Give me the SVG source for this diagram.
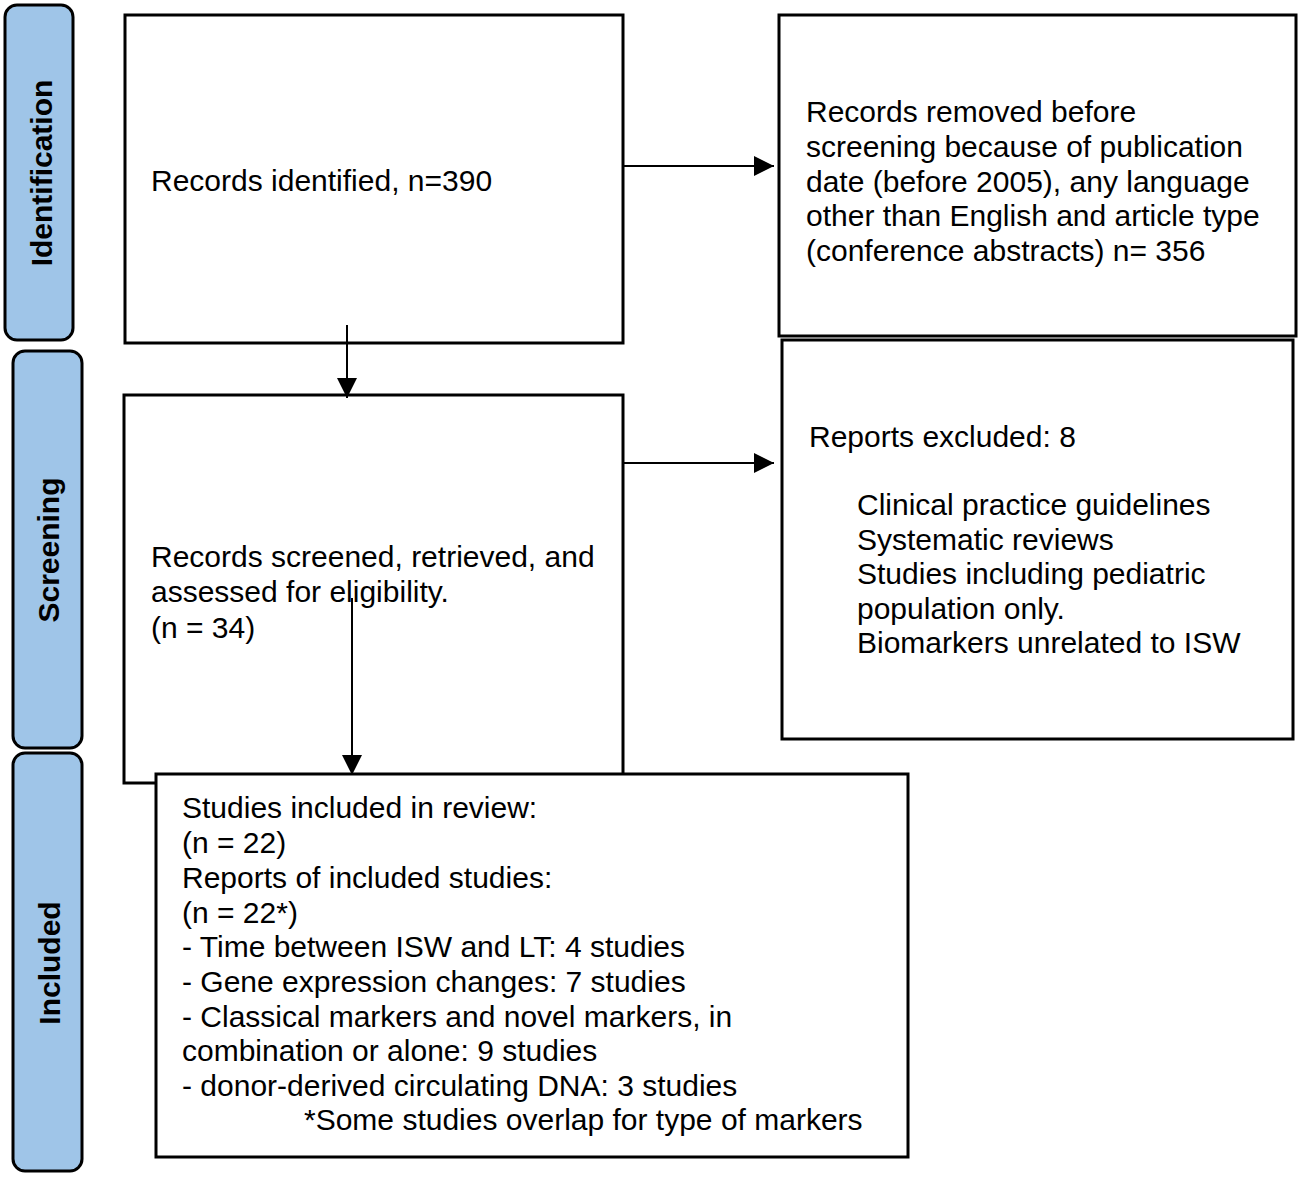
<svg xmlns="http://www.w3.org/2000/svg" width="1301" height="1177" viewBox="0 0 1301 1177">
<style>
.phase{fill:#9fc5e8;stroke:#000;stroke-width:3}
.box{fill:#fff;stroke:#000;stroke-width:3}
.pt{font-family:"Liberation Sans",Arial,sans-serif;font-weight:bold;font-size:30px;fill:#000}
.t{font-family:"Liberation Sans",Arial,sans-serif;font-size:30px;fill:#000}
.c{stroke:#000;stroke-width:2;fill:none}
</style>
<defs>
<marker id="ah" markerWidth="20" markerHeight="20" refX="20" refY="10" orient="auto" markerUnits="userSpaceOnUse" viewBox="0 0 20 20">
<path d="M0,0 L20,10 L0,20 Z" fill="#000"/>
</marker>
</defs>
<rect width="1301" height="1177" fill="#fff"/>
<g id="phase-identification">
<rect class="phase" x="5" y="5" width="68" height="335" rx="12"/>
<text class="pt" transform="translate(52,173) rotate(-90)" text-anchor="middle">Identification</text>
</g>
<g id="phase-screening">
<rect class="phase" x="13" y="351" width="69" height="397" rx="12"/>
<text class="pt" transform="translate(59,550) rotate(-90)" text-anchor="middle">Screening</text>
</g>
<g id="phase-included">
<rect class="phase" x="13" y="753" width="69" height="418" rx="12"/>
<text class="pt" transform="translate(60,963) rotate(-90)" text-anchor="middle">Included</text>
</g>
<g id="node-identified">
<rect class="box" x="125" y="15" width="498" height="328"/>
<text class="t" x="151" y="191">Records identified, n=390</text>
</g>
<g id="node-removed">
<rect class="box" x="779" y="15" width="517" height="321"/>
<text class="t" x="806" y="122">Records removed before</text>
<text class="t" x="806" y="157">screening because of publication</text>
<text class="t" x="806" y="192">date (before 2005), any language</text>
<text class="t" x="806" y="226">other than English and article type</text>
<text class="t" x="806" y="261">(conference abstracts) n= 356</text>
</g>
<g id="node-excluded">
<rect class="box" x="782" y="340" width="511" height="399"/>
<text class="t" x="809" y="447">Reports excluded: 8</text>
<text class="t" x="857" y="515">Clinical practice guidelines</text>
<text class="t" x="857" y="550">Systematic reviews</text>
<text class="t" x="857" y="584">Studies including pediatric</text>
<text class="t" x="857" y="619">population only.</text>
<text class="t" x="857" y="653">Biomarkers unrelated to ISW</text>
</g>
<g id="node-screened">
<rect class="box" x="124" y="395" width="499" height="388"/>
<text class="t" x="151" y="567">Records screened, retrieved, and</text>
<text class="t" x="151" y="602">assessed for eligibility.</text>
<text class="t" x="151" y="638">(n = 34)</text>
</g>
<g id="node-included">
<rect class="box" x="156" y="774" width="752" height="383"/>
<text class="t" x="182" y="818">Studies included in review:</text>
<text class="t" x="182" y="853">(n = 22)</text>
<text class="t" x="182" y="888">Reports of included studies:</text>
<text class="t" x="182" y="923">(n = 22*)</text>
<text class="t" x="182" y="957">- Time between ISW and LT: 4 studies</text>
<text class="t" x="182" y="992">- Gene expression changes: 7 studies</text>
<text class="t" x="182" y="1027">- Classical markers and novel markers, in</text>
<text class="t" x="182" y="1061">combination or alone: 9 studies</text>
<text class="t" x="182" y="1096">- donor-derived circulating DNA: 3 studies</text>
<text class="t" x="304" y="1130">*Some studies overlap for type of markers</text>
</g>
<g id="connectors">
<line class="c" x1="623" y1="166" x2="774" y2="166" marker-end="url(#ah)"/>
<line class="c" x1="623" y1="463" x2="774" y2="463" marker-end="url(#ah)"/>
<line class="c" x1="347" y1="325" x2="347" y2="398" marker-end="url(#ah)"/>
<line class="c" x1="352" y1="598" x2="352" y2="775" marker-end="url(#ah)"/>
</g>
</svg>
